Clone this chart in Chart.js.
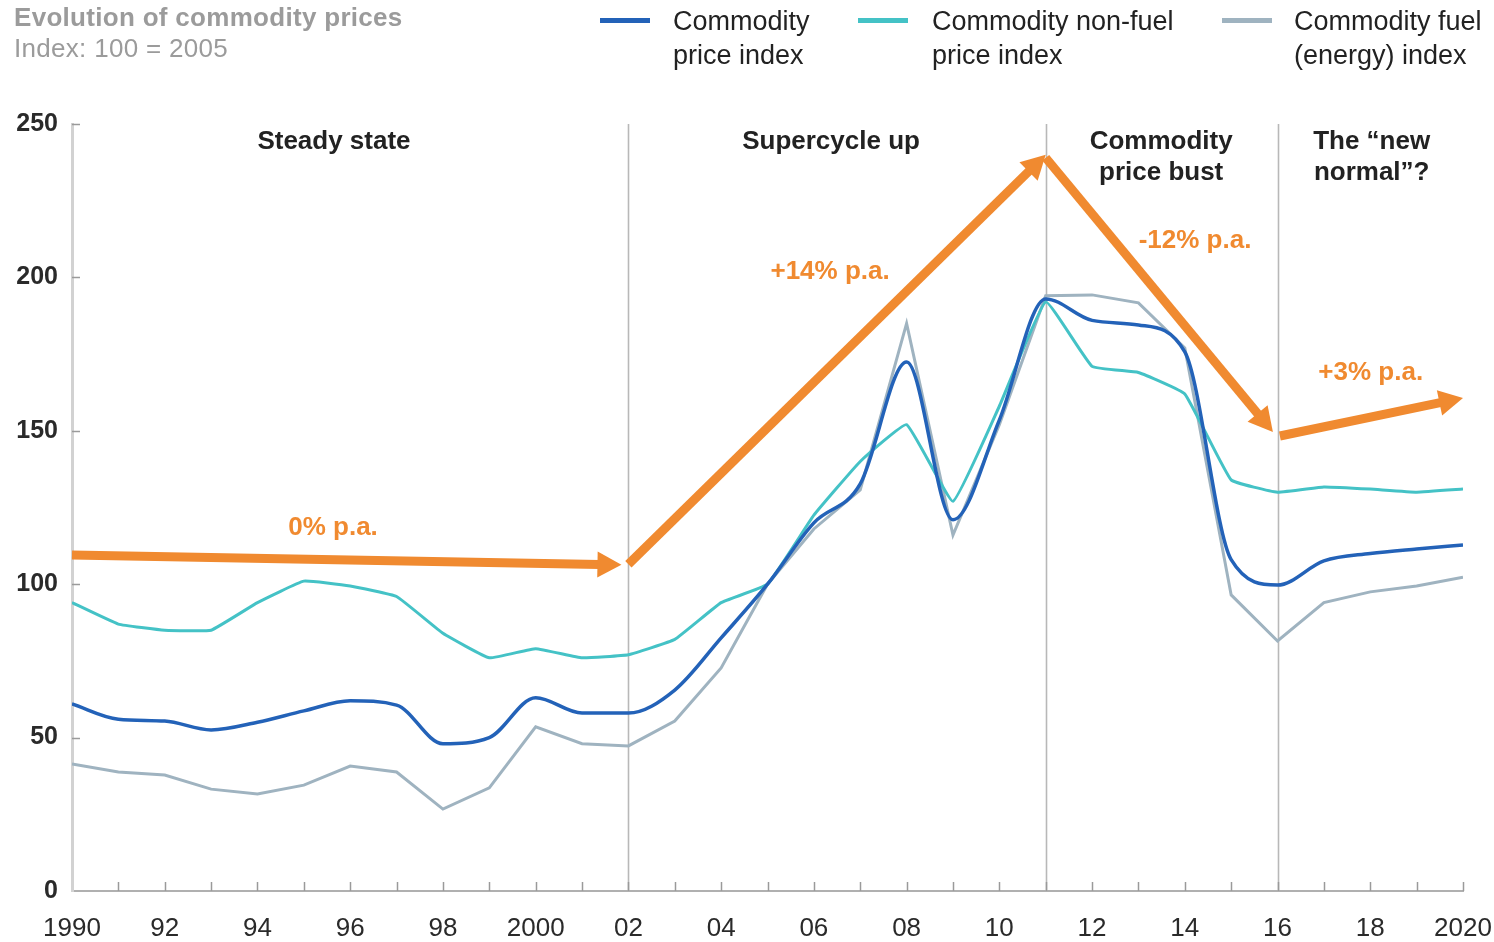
<!DOCTYPE html>
<html>
<head>
<meta charset="utf-8">
<script src="https://cdn.jsdelivr.net/npm/chart.js@4.4.1/dist/chart.umd.min.js"></script>
<style>
  html,body{margin:0;padding:0;background:#fff;}
  #wrap{position:relative;width:1494px;height:942px;overflow:hidden;font-family:"Liberation Sans",Arial,sans-serif;}
  #c{position:absolute;left:0;top:0;}
  .title{position:absolute;left:14px;top:2px;color:#9b9b9b;font-size:26px;line-height:31px;letter-spacing:0.3px;}
  .title b{font-weight:bold;}
  .lg{position:absolute;top:4px;font-size:27px;line-height:34px;color:#222;}
  .sw{position:absolute;top:18px;width:50px;height:5px;}
</style>
</head>
<body>
<div id="wrap">
  <canvas id="c" width="1494" height="942"></canvas>
  <div class="title"><b>Evolution of commodity prices</b><br>Index: 100 = 2005</div>
  <div class="sw" style="left:600px;background:#2362b8"></div>
  <div class="lg" style="left:673px">Commodity<br>price index</div>
  <div class="sw" style="left:858px;background:#44c2c6"></div>
  <div class="lg" style="left:932px">Commodity non-fuel<br>price index</div>
  <div class="sw" style="left:1222px;background:#9fb3c0"></div>
  <div class="lg" style="left:1294px">Commodity fuel<br>(energy) index</div>
</div>
<script>
// ---- data ----
const years = [1990,1991,1992,1993,1994,1995,1996,1997,1998,1999,2000,2001,2002,2003,2004,2005,2006,2007,2008,2009,2010,2011,2012,2013,2014,2015,2016,2017,2018,2019,2020];
const commodityIndex = [61,56,55.4,52.5,55,58.7,62,60.6,48,50,63,58,58,65.5,82.5,100,120,132.7,172.4,121,153.5,193,186,184.5,175.7,108,99.7,107.6,110,111.5,112.8];
const nonFuelIndex = [94,87,85,85,94,101,99.4,96,84,76,79,76,77,82,94,100,122.5,140,152,127,158,192,171,169,162,134,130,131.7,131,130,131];
const fuelIndex = [41.4,38.8,37.8,33.2,31.6,34.5,40.7,38.8,26.7,33.6,53.5,48,47.3,55.4,72.7,100,118,130.7,185,116,152,194,194.3,191.7,177,96.5,81.5,94,97.5,99.4,102.3];
const seriesNames = ["Commodity price index","Commodity non-fuel price index","Commodity fuel (energy) index"];
const yTicks = [0,50,100,150,200,250];
const xTickLabels = {1990:"1990",1992:"92",1994:"94",1996:"96",1998:"98",2000:"2000",2002:"02",2004:"04",2006:"06",2008:"08",2010:"10",2012:"12",2014:"14",2016:"16",2018:"18",2020:"2020"};
const phaseBreaks = [2002,2011,2016];
// trend arrows: [x0, y0, x1, y1]
const trendArrows = [
  [1990,109.5,2001.85,106.3],
  [2002,106.5,2011,240],
  [2011,239,2015.9,149.6],
  [2016.05,148.3,2020,160.7]
];
const trendLabels = [
  {text:"0% p.a.", x:1995.63, y:118.3},
  {text:"+14% p.a.", x:2006.35, y:201.8},
  {text:"-12% p.a.", x:2014.22, y:211.9},
  {text:"+3% p.a.", x:2018.01, y:168.8}
];
const phaseLabels = [
  {lines:["Steady state"], x:1995.65},
  {lines:["Supercycle up"], x:2006.37},
  {lines:["Commodity","price bust"], x:2013.49},
  {lines:["The \u201cnew","normal\u201d?"], x:2018.03}
];

const ORANGE = "#f08a30";
const FONT = "'Liberation Sans', Arial, sans-serif";
const toXY = vals => years.map((y,i)=>({x:y,y:vals[i]}));

const decor = {
  id:"decor",
  beforeDatasetsDraw(chart){
    const {ctx, scales:{x,y}} = chart;
    ctx.save();
    ctx.strokeStyle = "#b8b8b8";
    ctx.lineWidth = 1.6;
    phaseBreaks.forEach(v=>{
      const px = Math.round(x.getPixelForValue(v))+0.5;
      ctx.beginPath();
      ctx.moveTo(px, y.getPixelForValue(250));
      ctx.lineTo(px, y.getPixelForValue(0));
      ctx.stroke();
    });
    ctx.restore();
  },
  afterDatasetsDraw(chart){
    const {ctx, scales:{x,y}} = chart;
    ctx.save();
    // arrows
    trendArrows.forEach(a=>{
      const x0=x.getPixelForValue(a[0]), y0=y.getPixelForValue(a[1]);
      const x1=x.getPixelForValue(a[2]), y1=y.getPixelForValue(a[3]);
      const ang=Math.atan2(y1-y0,x1-x0);
      const L=24, W=13;
      const bx=x1-L*Math.cos(ang), by=y1-L*Math.sin(ang);
      ctx.strokeStyle=ORANGE; ctx.lineWidth=9; ctx.lineCap="butt";
      ctx.beginPath(); ctx.moveTo(x0,y0); ctx.lineTo(bx+2*Math.cos(ang),by+2*Math.sin(ang)); ctx.stroke();
      ctx.fillStyle=ORANGE;
      ctx.beginPath();
      ctx.moveTo(x1,y1);
      ctx.lineTo(bx+W*Math.sin(ang), by-W*Math.cos(ang));
      ctx.lineTo(bx-W*Math.sin(ang), by+W*Math.cos(ang));
      ctx.closePath(); ctx.fill();
    });
    // tick marks inside axes
    ctx.strokeStyle="#9a9a9a"; ctx.lineWidth=1.5;
    const y0p = y.getPixelForValue(0);
    for(let v=1991; v<=2020; v++){
      const px = Math.round(x.getPixelForValue(v))+0.5;
      ctx.beginPath(); ctx.moveTo(px,y0p); ctx.lineTo(px,y0p-9); ctx.stroke();
    }
    const x0p = x.getPixelForValue(1990);
    yTicks.forEach(v=>{
      if(v===0) return;
      const py = Math.round(y.getPixelForValue(v))+0.5;
      ctx.beginPath(); ctx.moveTo(x0p,py); ctx.lineTo(x0p+8,py); ctx.stroke();
    });
    // texts
    ctx.textAlign="center"; ctx.textBaseline="middle";
    ctx.fillStyle=ORANGE; ctx.font="bold 26px "+FONT;
    trendLabels.forEach(t=>ctx.fillText(t.text, x.getPixelForValue(t.x), y.getPixelForValue(t.y)));
    ctx.fillStyle="#222"; ctx.font="bold 26px "+FONT;
    const top = y.getPixelForValue(250);
    phaseLabels.forEach(p=>p.lines.forEach((ln,i)=>ctx.fillText(ln, x.getPixelForValue(p.x), top+18+i*31)));
    ctx.restore();
  }
};

new Chart(document.getElementById("c"), {
  type:"line",
  data:{
    datasets:[
      {label:seriesNames[0], data:toXY(commodityIndex), borderColor:"#2362b8", borderWidth:3.5, pointRadius:0, cubicInterpolationMode:"monotone"},
      {label:seriesNames[1], data:toXY(nonFuelIndex), borderColor:"#44c2c6", borderWidth:3, pointRadius:0, tension:0.1},
      {label:seriesNames[2], data:toXY(fuelIndex), borderColor:"#9fb3c0", borderWidth:3, pointRadius:0, tension:0}
    ]
  },
  options:{
    responsive:false, animation:false, devicePixelRatio:1,
    layout:{padding:{top:124,right:31,left:0,bottom:0}},
    plugins:{legend:{display:false}, tooltip:{enabled:false}},
    scales:{
      x:{type:"linear", min:1990, max:2020,
         afterFit(s){s.height=51; s.paddingLeft=0; s.paddingRight=0;},
         ticks:{stepSize:1, autoSkip:false, maxRotation:0, padding:22, color:"#2a2a2a",
                font:{family:FONT, size:26},
                callback:v=>xTickLabels[v]||""},
         grid:{display:true, drawOnChartArea:false, drawTicks:false},
         border:{display:true, color:"#b0b0b0", width:2}},
      y:{min:0, max:250,
         afterFit(s){s.width=72; s.paddingTop=0; s.paddingBottom=0;},
         afterBuildTicks(s){s.ticks=yTicks.map(v=>({value:v}));},
         ticks:{padding:14, color:"#2a2a2a", font:{family:FONT, size:25, weight:"bold"}},
         grid:{display:true, drawOnChartArea:false, drawTicks:false},
         border:{display:true, color:"#d2d2d2", width:3}}
    }
  },
  plugins:[decor]
});
</script>
</body>
</html>
